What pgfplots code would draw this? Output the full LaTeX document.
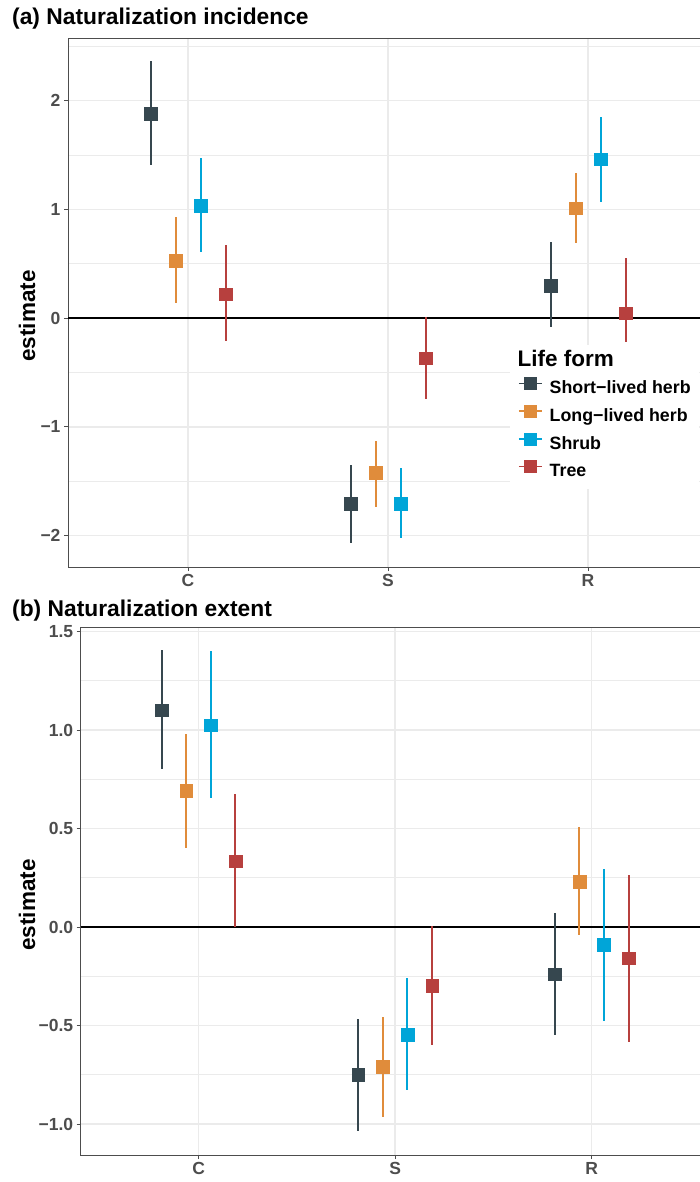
\documentclass[border=0pt]{standalone}
\usepackage{fontspec}
\setmainfont{Liberation Sans}
\usepackage{pgfplots}
\usepackage{pgfplotstable}
\pgfplotsset{compat=1.18}
\definecolor{cShort}{HTML}{36474F}
\definecolor{cLong}{HTML}{E08C3B}
\definecolor{cShrub}{HTML}{00A5D8}
\definecolor{cTree}{HTML}{B7403E}
\definecolor{gridc}{HTML}{EBEBEB}
\definecolor{framec}{HTML}{4D4D4D}
\definecolor{ticklab}{HTML}{4D4D4D}

% panel (a): x (dodged position), estimate, lower, upper
\pgfplotstableread{
x y lo hi
0.8125 1.88 1.41 2.36
1.8125 -1.71 -2.07 -1.35
2.8125 0.30 -0.08 0.70
}\aShort
\pgfplotstableread{
x y lo hi
0.9375 0.527 0.135 0.926
1.9375 -1.423 -1.736 -1.13
2.9375 1.009 0.693 1.337
}\aLong
\pgfplotstableread{
x y lo hi
1.0625 1.033 0.604 1.469
2.0625 -1.705 -2.02 -1.383
3.0625 1.46 1.07 1.852
}\aShrub
\pgfplotstableread{
x y lo hi
1.1875 0.22 -0.209 0.672
2.1875 -0.371 -0.748 0.012
3.1875 0.043 -0.218 0.549
}\aTree
% panel (b)
\pgfplotstableread{
x y lo hi
0.8125 1.10 0.802 1.406
1.8125 -0.748 -1.034 -0.469
2.8125 -0.24 -0.548 0.07
}\bShort
\pgfplotstableread{
x y lo hi
0.9375 0.692 0.40 0.98
1.9375 -0.709 -0.963 -0.459
2.9375 0.23 -0.041 0.509
}\bLong
\pgfplotstableread{
x y lo hi
1.0625 1.025 0.653 1.40
2.0625 -0.545 -0.827 -0.26
3.0625 -0.088 -0.477 0.294
}\bShrub
\pgfplotstableread{
x y lo hi
1.1875 0.335 0.0 0.675
2.1875 -0.298 -0.599 0.007
3.1875 -0.159 -0.585 0.264
}\bTree

\pgfplotsset{
  table/errtab/.style={x=x, y=y,
    y error plus expr=\thisrow{hi}-\thisrow{y},
    y error minus expr=\thisrow{y}-\thisrow{lo}},
  est/.style={only marks, mark=square*, mark size=6.3pt, color=#1,
    mark options={draw=none, fill=#1},
    error bars/y dir=both, error bars/y explicit, error bars/error mark=none,
    error bars/error bar style={line width=2pt, color=#1}},
  panel/.style={scale only axis, xmin=0.4, xmax=3.6,
    xtick={1,2,3}, xticklabels={C,S,R},
    grid=both, major grid style={gridc, line width=1.6pt},
    minor grid style={gridc, line width=0.8pt},
    minor tick length=0pt, major tick length=4pt,
    tick align=outside, tick pos=left,
    axis line style={framec, line width=1pt},
    tick style={framec, line width=1pt},
    ticklabel style={font=\fontsize{17.5}{17.5}\selectfont\bfseries, text=ticklab},
    ylabel={estimate},
    ylabel style={font=\fontsize{22.5}{22.5}\selectfont\bfseries, anchor=center}},
}

\begin{document}
\begin{tikzpicture}
\node[anchor=base west, font=\fontsize{22.8}{22.8}\selectfont\bfseries, inner sep=0pt] at (12pt,-25pt) {(a) Naturalization incidence};
\node[anchor=base west, font=\fontsize{22.8}{22.8}\selectfont\bfseries, inner sep=0pt] at (12pt,-616pt) {(b) Naturalization extent};

\begin{axis}[panel, at={(68pt,-567pt)}, anchor=south west, width=640pt, height=529pt,
  ymin=-2.29, ymax=2.576, ytick={-2,-1,0,1,2}, yticklabels={−2,−1,0,1,2},
  minor ytick={-1.5,-0.5,0.5,1.5,2.5},
  ylabel style={at={(axis description cs:-0.0641,0.4745)}},
  legend image code/.code={\draw[#1, line width=1.5pt] (0pt,6pt)--(23pt,6pt); \fill[#1] (5.5pt,0pt) rectangle (17.5pt,12pt);},
  legend cell align=left,
  legend style={at={(rel axis cs:0.6906,0.4197)}, anchor=north west, fill=white, draw=none,
    inner xsep=8pt, inner ysep=8pt, row sep=7pt, column sep=7pt,
    nodes={inner sep=0pt, text height=13pt, text depth=4pt, font=\fontsize{17.8}{17.8}\selectfont\bfseries}}]
\addplot[black, line width=1.4pt, forget plot] coordinates {(0.4,0) (3.6,0)};
\addplot[forget plot, est=cShort] table[errtab] {\aShort};
\addplot[forget plot, est=cLong] table[errtab] {\aLong};
\addplot[forget plot, est=cShrub] table[errtab] {\aShrub};
\addplot[forget plot, est=cTree] table[errtab] {\aTree};
\addlegendimage{empty legend}
\addlegendentry{\hspace*{-32pt}\fontsize{22.5}{22.5}\selectfont Life form}
\addlegendimage{cShort}
\addlegendentry{Short−lived herb}
\addlegendimage{cLong}
\addlegendentry{Long−lived herb}
\addlegendimage{cShrub}
\addlegendentry{Shrub}
\addlegendimage{cTree}
\addlegendentry{Tree}
\end{axis}

\begin{axis}[panel, at={(80.7pt,-1155pt)}, anchor=south west, width=628.9pt, height=528pt,
  ymin=-1.157, ymax=1.523, ytick={-1,-0.5,0,0.5,1,1.5}, yticklabels={−1.0,−0.5,0.0,0.5,1.0,1.5},
  minor ytick={-0.75,-0.25,0.25,0.75,1.25},
  ylabel style={at={(axis description cs:-0.0854,0.4735)}}]
\addplot[black, line width=1.4pt, forget plot] coordinates {(0.4,0) (3.6,0)};
\addplot[forget plot, est=cShort] table[errtab] {\bShort};
\addplot[forget plot, est=cLong] table[errtab] {\bLong};
\addplot[forget plot, est=cShrub] table[errtab] {\bShrub};
\addplot[forget plot, est=cTree] table[errtab] {\bTree};
\end{axis}

\pgfresetboundingbox
\useasboundingbox (0pt,0pt) rectangle (699pt,-1182pt);
\end{tikzpicture}
\end{document}
